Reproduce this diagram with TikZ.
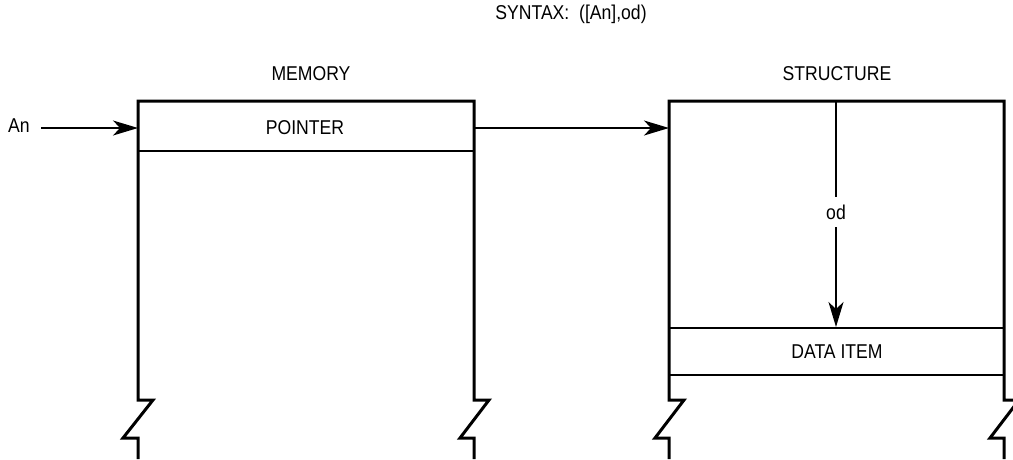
\documentclass[tikz,border=0pt]{standalone}
\usepackage{fontspec}
\setmainfont{Liberation Sans}[FakeStretch=0.88]
\usetikzlibrary{arrows.meta}

\begin{document}
\begin{tikzpicture}[x=1pt,y=-1pt,
    every node/.style={font=\fontsize{20}{23}\selectfont, inner sep=0pt},
    frame/.style={line width=3pt, line join=miter},
    rule/.style={line width=1.4pt},
    link/.style={line width=1.4pt, -{Stealth[length=25pt,width=15pt,inset=7pt]}}]

% Page
\useasboundingbox (0,0) rectangle (1013,459);

% Break heights
\def\ya{400}
\def\yb{438}

% Memory box corners
\coordinate (ML) at (138,101);
\coordinate (MR) at (474,101);

% Structure box corners
\coordinate (SL) at (669,101);
\coordinate (SR) at (1004,101);

% Draw memory box with break marks
\draw[frame] (138,459) -- (138,\yb) -- (123,\yb) -- (153,\ya) -- (138,\ya)
  -- (ML) -- (MR) -- (474,\ya) -- (489,\ya) -- (460,\yb) -- (474,\yb) -- (474,459);

% Draw structure box with break marks
\draw[frame] (669,459) -- (669,\yb) -- (655,\yb) -- (684,\ya) -- (669,\ya)
  -- (SL) -- (SR) -- (1004,\ya) -- (1019,\ya) -- (990,\yb) -- (1004,\yb) -- (1004,459);

% Rows
\draw[rule] (138,151) -- (474,151);
\draw[rule] (669,328) -- (1004,328);
\draw[rule] (669,375) -- (1004,375);

% Labels
\node (syntax) at (571,14) {SYNTAX:\ \ ([An],od)};
\node (memory) at (311,74) {MEMORY};
\node (structure) at (837,74) {STRUCTURE};
\node (pointer) at (305,128) {POINTER};
\node (data) at (837,352) {DATA ITEM};
\node (an) at (19,126) {An};

% Connector ends
\coordinate (ptrin) at (138,128);
\coordinate (ptrout) at (474,128);
\coordinate (strin) at (669,128);
\coordinate (odtop) at (836,101);
\coordinate (odend) at (836,327);

% Arrows
\draw[link] (41,128) -- (ptrin);
\draw[link] (ptrout) -- (strin);
\draw[rule] (odtop) -- (836,197);
\draw[link] (836,227) -- (odend);
\node[fill=white, inner sep=2pt] (od) at (836,212) {od};

\end{tikzpicture}
\end{document}
